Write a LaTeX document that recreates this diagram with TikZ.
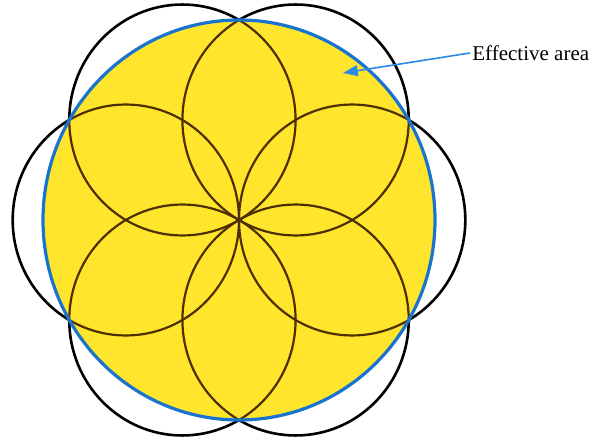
\documentclass[tikz,border=0pt]{standalone}
\usepackage{fontspec}
\setmainfont{Liberation Serif}
\usetikzlibrary{arrows.meta}
\definecolor{areacolor}{HTML}{FFE52C}
\definecolor{rimcolor}{HTML}{1874CD}
\definecolor{petalcolor}{HTML}{4E3000}
\definecolor{pointercolor}{HTML}{2A8AE6}
\tikzset{
  eff petal/.style={black,line width=1.3pt},
  eff inner/.style={petalcolor,line width=1.1pt},
  eff rim/.style={rimcolor,line width=1.6pt},
  eff arrow/.style={pointercolor,line width=.8pt,-{Triangle[length=2.6mm,width=1.9mm]}}
}
\begin{document}
\begin{tikzpicture}[x=.5pt,y=.5pt,font=\fontsize{10.5}{13}\selectfont]
  \useasboundingbox (0,0) rectangle (594,439);
  \begin{scope}[shift={(239,219)},xscale=.98]
    \foreach \a in {0,60,...,300}{\draw[eff petal] (\a:115.47) circle[radius=115.47];}
    \fill[areacolor] (0,0) circle[radius=200];
    \begin{scope}
      \clip (0,0) circle[radius=200];
      \foreach \a in {0,60,...,300}{\draw[eff inner] (\a:115.47) circle[radius=115.47];}
    \end{scope}
    \draw[eff rim] (0,0) circle[radius=200];
  \end{scope}
  \node[anchor=west,inner sep=1pt] (area) at (470,386) {Effective area};
  \coordinate (areatip) at (343,366);
  \draw[eff arrow] (area.west) -- (areatip);
\end{tikzpicture}
\end{document}
